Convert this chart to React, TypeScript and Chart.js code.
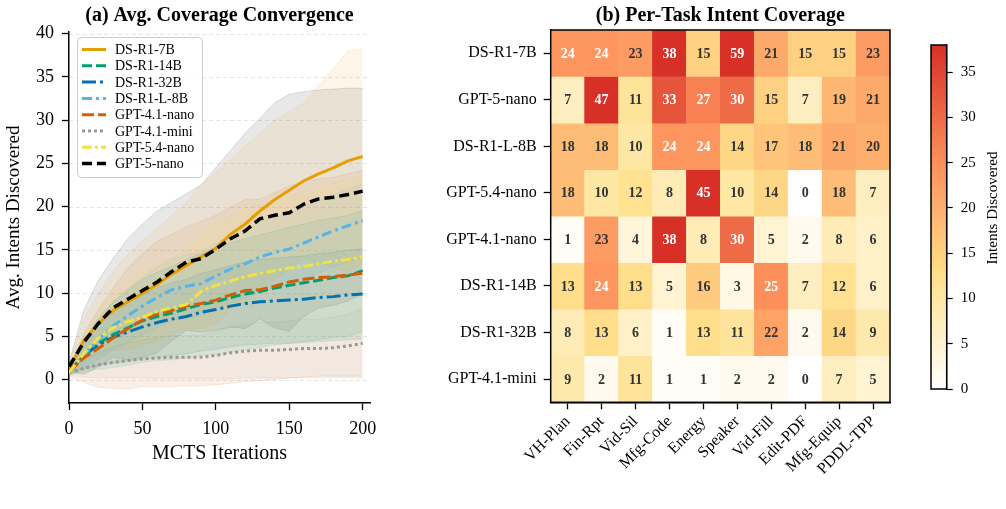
import React, { useEffect, useRef } from "react";
import { Chart, registerables } from "chart.js";
Chart.register(...registerables);

const FONT = "'Liberation Serif', 'Times New Roman', serif";

// ---------- Panel (a) data ----------
const ITERS = [0, 10, 20, 30, 40, 50, 60, 70, 80, 90, 100, 110, 120, 130, 140, 150, 160, 170, 180, 190, 200];

const DS_R1_7B = [1.2, 4.5, 6.5, 8.0, 9.0, 10.0, 11.0, 12.2, 13.2, 14.2, 15.2, 16.8, 18.0, 19.5, 20.8, 21.9, 23.0, 23.8, 24.5, 25.3, 25.8];
const DS_R1_14B = [0.9, 2.7, 4.2, 5.2, 6.0, 6.8, 7.3, 7.7, 8.2, 8.7, 9.0, 9.5, 9.9, 10.2, 10.6, 10.9, 11.2, 11.5, 11.8, 12.0, 12.6];
const DS_R1_32B = [0.9, 2.8, 4.0, 4.9, 5.5, 6.1, 6.6, 7.0, 7.3, 7.8, 8.1, 8.5, 8.8, 9.0, 9.1, 9.2, 9.3, 9.5, 9.6, 9.8, 9.9];
const DS_R1_L_8B = [0.8, 2.8, 4.6, 6.2, 7.4, 8.5, 9.5, 10.4, 10.8, 11.1, 12.0, 12.8, 13.4, 14.2, 14.7, 15.1, 15.8, 16.5, 17.2, 17.8, 18.4];
const GPT_41_NANO = [0.9, 2.5, 3.6, 4.8, 5.9, 6.9, 7.6, 8.0, 8.5, 8.8, 9.2, 9.8, 10.3, 10.4, 10.8, 11.3, 11.6, 11.8, 11.9, 12.1, 12.3];
const GPT_41_MINI = [0.8, 1.3, 1.7, 2.0, 2.2, 2.4, 2.5, 2.6, 2.6, 2.6, 2.8, 3.1, 3.3, 3.4, 3.4, 3.5, 3.6, 3.6, 3.7, 3.9, 4.2];
const GPT_54_NANO = [0.8, 3.0, 4.8, 6.0, 6.7, 7.2, 7.9, 8.3, 8.7, 10.2, 10.9, 11.4, 11.9, 12.3, 12.6, 12.9, 13.1, 13.4, 13.7, 13.9, 14.2];
const GPT_5_NANO = [1.5, 4.3, 6.5, 8.3, 9.3, 10.3, 11.3, 12.5, 13.6, 14.0, 15.1, 16.3, 17.2, 18.6, 19.0, 19.3, 20.3, 20.9, 21.1, 21.4, 21.8];

// standard deviations (shaded bands)
const SD_DS_R1_7B = [0.6, 2.5, 3.5, 4.5, 5.5, 6.0, 6.5, 6.8, 7.3, 8.3, 8.8, 8.7, 9.0, 9.0, 9.2, 9.1, 9.0, 10.2, 11.5, 12.7, 12.4];
const SD_DS_R1_14B = [0.3, 1.8, 3.0, 3.8, 4.3, 4.8, 5.1, 5.4, 5.7, 5.9, 6.1, 6.3, 6.4, 6.5, 6.6, 6.7, 6.8, 6.9, 6.9, 7.0, 7.0];
const SD_DS_R1_32B = [0.3, 1.5, 2.4, 3.0, 3.4, 3.7, 4.0, 4.2, 4.3, 4.5, 4.6, 4.7, 4.8, 4.9, 4.9, 5.0, 5.0, 5.1, 5.1, 5.2, 5.2];
const SD_DS_R1_L_8B = [0.3, 1.5, 2.2, 2.8, 3.1, 3.3, 3.5, 3.6, 3.6, 3.7, 3.8, 3.9, 4.0, 4.0, 4.1, 4.1, 4.2, 4.2, 4.2, 4.2, 4.2];
const SD_GPT_41_NANO = [0.5, 2.8, 4.5, 5.8, 7.0, 7.7, 8.4, 8.8, 9.2, 9.5, 9.8, 10.2, 10.5, 10.5, 10.8, 11.1, 11.3, 11.4, 11.5, 11.7, 11.9];
const SD_GPT_41_MINI = [0.3, 1.0, 1.5, 1.8, 2.0, 2.2, 2.4, 2.5, 2.5, 2.5, 2.7, 3.0, 3.1, 3.2, 3.2, 3.3, 3.4, 3.4, 3.5, 3.7, 4.0];
const SD_GPT_54_NANO = [0.3, 2.0, 3.0, 4.0, 4.5, 5.0, 5.5, 5.8, 6.0, 6.8, 7.2, 7.5, 7.8, 8.0, 8.2, 8.4, 8.6, 8.8, 9.0, 9.2, 9.4];
const SD_GPT_5_NANO = [0.5, 3.7, 5.0, 5.7, 7.0, 7.7, 8.2, 8.0, 7.9, 8.5, 9.4, 10.2, 11.3, 11.6, 13.0, 13.7, 13.0, 12.6, 12.5, 12.3, 11.9];

const X_TICKS = [0, 50, 100, 150, 200];
const Y_TICKS = [0, 5, 10, 15, 20, 25, 30, 35, 40];

// ---------- Panel (b) data ----------
const TASKS = ["VH-Plan", "Fin-Rpt", "Vid-Sil", "Mfg-Code", "Energy", "Speaker", "Vid-Fill", "Edit-PDF", "Mfg-Equip", "PDDL-TPP"];
const MODELS = ["DS-R1-7B", "GPT-5-nano", "DS-R1-L-8B", "GPT-5.4-nano", "GPT-4.1-nano", "DS-R1-14B", "DS-R1-32B", "GPT-4.1-mini"];
const ROW_DS_R1_7B = [24, 24, 23, 38, 15, 59, 21, 15, 15, 23];
const ROW_GPT_5_NANO = [7, 47, 11, 33, 27, 30, 15, 7, 19, 21];
const ROW_DS_R1_L_8B = [18, 18, 10, 24, 24, 14, 17, 18, 21, 20];
const ROW_GPT_54_NANO = [18, 10, 12, 8, 45, 10, 14, 0, 18, 7];
const ROW_GPT_41_NANO = [1, 23, 4, 38, 8, 30, 5, 2, 8, 6];
const ROW_DS_R1_14B = [13, 24, 13, 5, 16, 3, 25, 7, 12, 6];
const ROW_DS_R1_32B = [8, 13, 6, 1, 13, 11, 22, 2, 14, 9];
const ROW_GPT_41_MINI = [9, 2, 11, 1, 1, 2, 2, 0, 7, 5];
const HEAT = [ROW_DS_R1_7B, ROW_GPT_5_NANO, ROW_DS_R1_L_8B, ROW_GPT_54_NANO, ROW_GPT_41_NANO, ROW_DS_R1_14B, ROW_DS_R1_32B, ROW_GPT_41_MINI];
const VMAX = 38;
const CBAR_TICKS = [0, 5, 10, 15, 20, 25, 30, 35];

// ---------- styles ----------
const SERIES = [
  { name: "DS-R1-7B", mean: DS_R1_7B, sd: SD_DS_R1_7B, color: "#E69F00", dash: [], width: 3 },
  { name: "DS-R1-14B", mean: DS_R1_14B, sd: SD_DS_R1_14B, color: "#009E73", dash: [10, 4], width: 3 },
  { name: "DS-R1-32B", mean: DS_R1_32B, sd: SD_DS_R1_32B, color: "#0072B2", dash: [14, 4, 3, 4], width: 3 },
  { name: "DS-R1-L-8B", mean: DS_R1_L_8B, sd: SD_DS_R1_L_8B, color: "#56B4E9", dash: [10, 4, 3, 4], width: 3 },
  { name: "GPT-4.1-nano", mean: GPT_41_NANO, sd: SD_GPT_41_NANO, color: "#D55E00", dash: [12, 4], width: 3 },
  { name: "GPT-4.1-mini", mean: GPT_41_MINI, sd: SD_GPT_41_MINI, color: "#999999", dash: [3, 3], width: 3 },
  { name: "GPT-5.4-nano", mean: GPT_54_NANO, sd: SD_GPT_54_NANO, color: "#F0E442", dash: [10, 3, 3, 3], width: 3 },
  { name: "GPT-5-nano", mean: GPT_5_NANO, sd: SD_GPT_5_NANO, color: "#000000", dash: [10, 5], width: 3.5 },
];

const CMAP: [number, number[]][] = [
  [0, [255, 255, 255]],
  [1 / 3, [254, 224, 139]],
  [2 / 3, [252, 141, 89]],
  [1, [215, 48, 39]],
];

function heatColor(v: number) {
  const t = Math.max(0, Math.min(1, v / VMAX));
  for (let i = 0; i < CMAP.length - 1; i++) {
    const [t0, c0] = CMAP[i];
    const [t1, c1] = CMAP[i + 1];
    if (t <= t1) {
      const f = (t - t0) / (t1 - t0);
      const c = c0.map((a, k) => Math.round(a + (c1[k] - a) * f));
      return `rgb(${c[0]},${c[1]},${c[2]})`;
    }
  }
  return "rgb(215,48,39)";
}

function rgba(hex: string, a: number) {
  const n = parseInt(hex.slice(1), 16);
  return `rgba(${(n >> 16) & 255},${(n >> 8) & 255},${n & 255},${a})`;
}

const titlePlugin = (text: string) => ({
  id: "panelTitle",
  afterDraw(chart: any) {
    const { ctx, chartArea } = chart;
    ctx.save();
    ctx.font = `bold 20px ${FONT}`;
    ctx.fillStyle = "#000";
    ctx.textAlign = "center";
    ctx.textBaseline = "middle";
    ctx.fillText(text, (chartArea.left + chartArea.right) / 2, 16);
    ctx.restore();
  },
});

const gridPlugin = {
  id: "dashGrid",
  beforeDatasetsDraw(chart: any) {
    const { ctx, chartArea, scales } = chart;
    ctx.save();
    ctx.strokeStyle = "rgba(0,0,0,0.13)";
    ctx.lineWidth = 0.8;
    ctx.setLineDash([4, 3]);
    scales.y.ticks.forEach((t: any) => {
      const y = Math.round(scales.y.getPixelForValue(t.value)) + 0.5;
      ctx.beginPath();
      ctx.moveTo(chartArea.left, y);
      ctx.lineTo(chartArea.right, y);
      ctx.stroke();
    });
    ctx.restore();
  },
};

const legendPlugin = {
  id: "boxLegend",
  afterDraw(chart: any) {
    const { ctx } = chart;
    const x0 = 77, y0 = 37, w = 125, h = 140;
    ctx.save();
    ctx.beginPath();
    ctx.roundRect(x0 + 0.5, y0 + 0.5, w, h, 4);
    ctx.fillStyle = "rgba(255,255,255,0.8)";
    ctx.fill();
    ctx.strokeStyle = "#cccccc";
    ctx.lineWidth = 1;
    ctx.stroke();
    ctx.font = `14px ${FONT}`;
    ctx.textBaseline = "middle";
    ctx.textAlign = "left";
    SERIES.forEach((s, i) => {
      const y = 49.5 + i * 16.3;
      ctx.beginPath();
      ctx.setLineDash(s.dash);
      ctx.strokeStyle = s.color;
      ctx.lineWidth = s.width;
      ctx.moveTo(82, y);
      ctx.lineTo(106, y);
      ctx.stroke();
      ctx.setLineDash([]);
      ctx.fillStyle = "#000";
      ctx.fillText(s.name, 115, y + 1);
    });
    ctx.restore();
  },
};

const cellTextPlugin = {
  id: "cellText",
  afterDatasetsDraw(chart: any) {
    const { ctx } = chart;
    ctx.save();
    ctx.font = `bold 14px ${FONT}`;
    ctx.textAlign = "center";
    ctx.textBaseline = "middle";
    HEAT.forEach((row, r) => {
      const meta = chart.getDatasetMeta(r);
      meta.data.forEach((bar: any, c: number) => {
        const { x, y, base } = bar.getProps(["x", "y", "base"], true);
        const v = row[c];
        ctx.fillStyle = v >= 24 ? "#ffffff" : "#333333";
        ctx.fillText(String(v), x, (y + base) / 2 + 1);
      });
    });
    ctx.restore();
  },
};

const framePlugin = {
  id: "frame",
  afterDraw(chart: any) {
    const { ctx, chartArea } = chart;
    ctx.save();
    ctx.strokeStyle = "#000";
    ctx.lineWidth = 1.5;
    ctx.strokeRect(chartArea.left, chartArea.top, chartArea.right - chartArea.left, chartArea.bottom - chartArea.top);
    ctx.restore();
  },
};

const cbarTitlePlugin = {
  id: "cbarTitle",
  afterDraw(chart: any) {
    const { ctx } = chart;
    ctx.save();
    ctx.translate(93, 208);
    ctx.rotate(-Math.PI / 2);
    ctx.font = `15px ${FONT}`;
    ctx.fillStyle = "#000";
    ctx.textAlign = "center";
    ctx.textBaseline = "middle";
    ctx.fillText("Intents Discovered", 0, 0);
    ctx.restore();
  },
};

function LineChart() {
  const ref = useRef<HTMLCanvasElement>(null);
  useEffect(() => {
    const datasets: any[] = [];
    SERIES.forEach((s) => {
      datasets.push({
        label: s.name + " +sd",
        data: ITERS.map((x, i) => ({ x, y: s.mean[i] + s.sd[i] })),
        borderColor: rgba(s.color, 0.16),
        backgroundColor: rgba(s.color, 0.09),
        borderWidth: 0.8,
        fill: "+1",
        pointRadius: 0,
        tension: 0,
        order: 20,
      });
      datasets.push({
        label: s.name + " -sd",
        data: ITERS.map((x, i) => ({ x, y: s.mean[i] - s.sd[i] })),
        borderColor: rgba(s.color, 0.16),
        borderWidth: 0.8,
        fill: false,
        pointRadius: 0,
        tension: 0,
        order: 20,
      });
    });
    SERIES.forEach((s, k) => {
      datasets.push({
        label: s.name,
        data: ITERS.map((x, i) => ({ x, y: s.mean[i] })),
        borderColor: s.color,
        borderWidth: s.width,
        borderDash: s.dash,
        borderCapStyle: "butt",
        fill: false,
        pointRadius: 0,
        tension: 0,
        order: 10 - k,
      });
    });
    const chart = new Chart(ref.current!, {
      type: "line",
      data: { datasets },
      options: {
        animation: false,
        responsive: false,
        maintainAspectRatio: false,
        layout: { padding: { top: 32, left: 0, right: 20, bottom: 43 } },
        plugins: { legend: { display: false }, tooltip: { enabled: false } },
        scales: {
          x: {
            type: "linear",
            min: 0,
            max: 205,
            afterBuildTicks: (s: any) => { s.ticks = X_TICKS.map((v) => ({ value: v })); },
            afterFit: (s: any) => { s.height = 63; },
            ticks: { font: { family: FONT, size: 18 }, color: "#000", padding: 8, maxRotation: 0 },
            grid: { display: true, drawOnChartArea: false, drawTicks: true, tickLength: 7, tickColor: "#000", tickWidth: 1.3 },
            border: { display: true, color: "#000", width: 1.5 },
            title: { display: true, text: "MCTS Iterations", font: { family: FONT, size: 20 }, color: "#000", padding: 0 },
          },
          y: {
            type: "linear",
            min: -2.7,
            max: 40.2,
            afterBuildTicks: (s: any) => { s.ticks = Y_TICKS.map((v) => ({ value: v })); },
            afterFit: (s: any) => { s.width = 69; },
            ticks: { font: { family: FONT, size: 18 }, color: "#000", padding: 8 },
            grid: { display: true, drawOnChartArea: false, drawTicks: true, tickLength: 7, tickColor: "#000", tickWidth: 1.3 },
            border: { display: true, color: "#000", width: 1.5 },
            title: { display: true, text: "Avg. Intents Discovered", font: { family: FONT, size: 19 }, color: "#000", padding: { top: 3, bottom: 0 } },
          },
        },
      },
      plugins: [gridPlugin, legendPlugin, titlePlugin("(a) Avg. Coverage Convergence")],
    } as any);
    return () => chart.destroy();
  }, []);
  return <canvas ref={ref} width={390} height={509} style={{ position: "absolute", left: 0, top: 0, width: 390, height: 509 }} />;
}

function HeatChart() {
  const ref = useRef<HTMLCanvasElement>(null);
  useEffect(() => {
    const chart = new Chart(ref.current!, {
      type: "bar",
      data: {
        labels: TASKS,
        datasets: MODELS.map((m, r) => ({
          label: m,
          data: TASKS.map(() => 1),
          backgroundColor: HEAT[r].map(heatColor),
          borderWidth: 0,
          barPercentage: 1,
          categoryPercentage: 1,
        })),
      },
      options: {
        animation: false,
        responsive: false,
        maintainAspectRatio: false,
        layout: { padding: { top: 30, left: 0, right: 10, bottom: 16.7 } },
        plugins: { legend: { display: false }, tooltip: { enabled: false } },
        scales: {
          x: {
            stacked: true,
            afterFit: (s: any) => { s.height = 90; },
            ticks: { font: { family: FONT, size: 16 }, color: "#000", maxRotation: 45, minRotation: 45, autoSkip: false, padding: 3 },
            grid: { offset: false, drawOnChartArea: false, drawTicks: true, tickLength: 7, tickColor: "#000", tickWidth: 1.3 },
            border: { display: true, color: "#000", width: 1.5 },
          },
          y: {
            type: "linear",
            stacked: true,
            reverse: true,
            min: 0,
            max: 8,
            afterBuildTicks: (s: any) => { s.ticks = MODELS.map((_, i) => ({ value: i + 0.5 })); },
            afterFit: (s: any) => { s.width = 150.7; },
            ticks: { font: { family: FONT, size: 16 }, color: "#000", padding: 7, autoSkip: false, callback: (v: any) => MODELS[Math.floor(Number(v))] },
            grid: { drawOnChartArea: false, drawTicks: true, tickLength: 7, tickColor: "#000", tickWidth: 1.3 },
            border: { display: true, color: "#000", width: 1.5 },
          },
        },
      },
      plugins: [cellTextPlugin, framePlugin, titlePlugin("(b) Per-Task Intent Coverage")],
    } as any);
    return () => chart.destroy();
  }, []);
  return <canvas ref={ref} width={500} height={509} style={{ position: "absolute", left: 400, top: 0, width: 500, height: 509 }} />;
}

function ColorBar() {
  const ref = useRef<HTMLCanvasElement>(null);
  useEffect(() => {
    const chart = new Chart(ref.current!, {
      type: "bar",
      data: {
        labels: [""],
        datasets: [
          {
            data: [[0, VMAX]],
            backgroundColor: (c: any) => {
              const ch = c.chart;
              if (!ch.chartArea) return "#fff";
              const y0 = ch.scales.y.getPixelForValue(0);
              const y1 = ch.scales.y.getPixelForValue(VMAX);
              const g = ch.ctx.createLinearGradient(0, y0, 0, y1);
              CMAP.forEach(([t, col]) => g.addColorStop(t, `rgb(${col[0]},${col[1]},${col[2]})`));
              return g;
            },
            borderWidth: 0,
            barPercentage: 1,
            categoryPercentage: 1,
          },
        ],
      },
      options: {
        animation: false,
        responsive: false,
        maintainAspectRatio: false,
        layout: { padding: { top: 45, left: 31, right: 0, bottom: 120 } },
        plugins: { legend: { display: false }, tooltip: { enabled: false } },
        scales: {
          x: { display: false },
          y: {
            position: "right",
            min: 0,
            max: VMAX,
            afterBuildTicks: (s: any) => { s.ticks = CBAR_TICKS.map((v) => ({ value: v })); },
            afterFit: (s: any) => { s.width = 59.3; },
            ticks: { font: { family: FONT, size: 15 }, color: "#000", padding: 8 },
            grid: { drawOnChartArea: false, drawTicks: true, tickLength: 6, tickColor: "#000", tickWidth: 1.2 },
            border: { display: true, color: "#000", width: 1.2 },
          },
        },
      },
      plugins: [framePlugin, cbarTitlePlugin],
    } as any);
    return () => chart.destroy();
  }, []);
  return <canvas ref={ref} width={106} height={509} style={{ position: "absolute", left: 900, top: 0, width: 106, height: 509 }} />;
}

export default function App() {
  return (
    <div style={{ position: "absolute", left: 0, top: 0, width: 1006, height: 509, background: "#ffffff", overflow: "hidden" }}>
      <LineChart />
      <HeatChart />
      <ColorBar />
    </div>
  );
}
